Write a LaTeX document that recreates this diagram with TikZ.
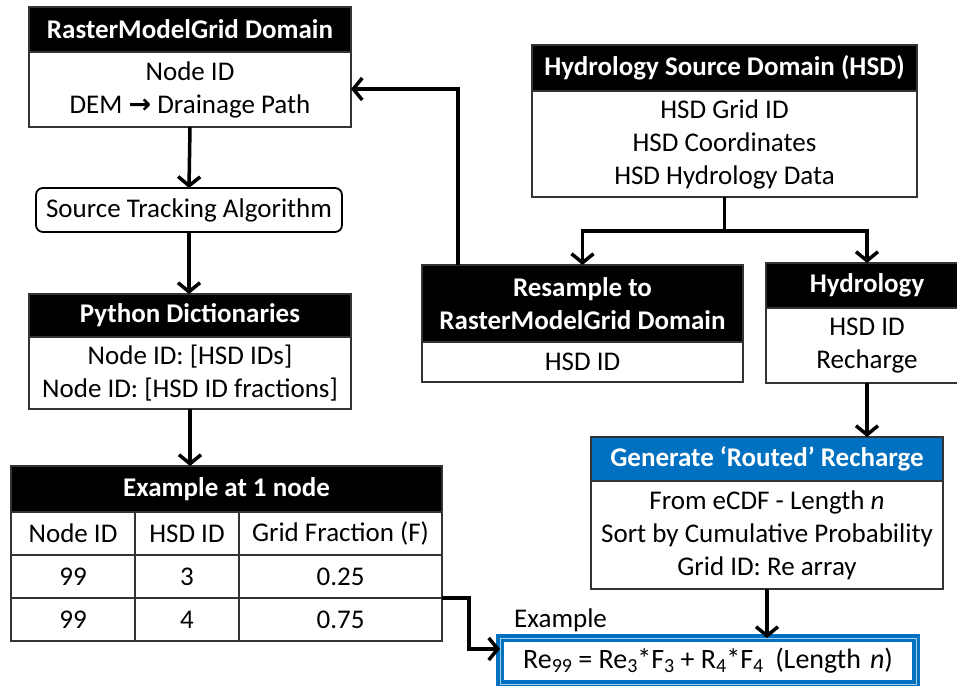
\documentclass[tikz,border=0pt]{standalone}
\usepackage{fontspec}
\setmainfont{Carlito}
\newfontfamily\arrowfont{DejaVu Sans}
\usepackage{tikz}
\usetikzlibrary{positioning}
\usetikzlibrary{arrows.meta}

\definecolor{officeblue}{RGB}{0,112,192}
\newcommand{\lowsub}[1]{\raisebox{-0.3ex}{\fontsize{20}{20}\selectfont #1}}

\begin{document}
\begin{tikzpicture}[
        x = 1pt, y = -1pt,
        font = \fontsize{27}{33}\selectfont,
        head/.style = {
            draw = black!80,
            fill = black,
            text = white,
            font = \fontsize{27}{33}\selectfont\bfseries,
            align = center,
            minimum width = #1,
            inner sep = 0pt,
            outer sep = 0pt,
            line width = 1.2pt
        },
        head/.default = 322pt,
        body/.style = {
            draw = black!80,
            fill = white,
            align = center,
            minimum width = #1,
            inner sep = 0pt,
            outer sep = 0pt,
            line width = 1.2pt
        },
        body/.default = 322pt,
        cell/.style = {
            body = #1,
            minimum height = 43pt
        },
        flow/.style = {
            line width = 3.5pt,
            -{Straight Barb[length = 9pt, width = 22pt, line width = 3.5pt]}
        },
        link/.style = {
            line width = 3.5pt
        }
        ]
        \useasboundingbox (0,0) rectangle (957,685);
%
        \node[head = 322pt, minimum height = 45pt, anchor = north] (rmg) at (190,7) {RasterModelGrid Domain};
        \node[body = 322pt, minimum height = 75pt, below = 0pt of rmg] (rmgbody) {Node ID\\DEM {\arrowfont\bfseries →} Drainage Path};
%
        \node[body = 306pt, minimum height = 44pt, rounded corners = 7pt, line width = 1.8pt, draw = black] (track) at (189,210) {Source Tracking Algorithm};
%
        \node[head = 322pt, minimum height = 43pt, anchor = north] (py) at (190,294) {Python Dictionaries};
        \node[body = 322pt, minimum height = 72pt, below = 0pt of py] (pybody) {Node ID: [HSD IDs]\\Node ID: [HSD ID fractions]};
%
% table
        \node[head = 431pt, minimum height = 46pt, anchor = north west] (tab) at (11,466) {Example at 1 node};
        \node[cell = 124pt, anchor = north west] (c11) at (tab.south west) {Node ID};
        \node[cell = 104pt, right = 0pt of c11] (c12) {HSD ID};
        \node[cell = 203pt, right = 0pt of c12] (c13) {Grid Fraction (F)};
        \node[cell = 124pt, below = 0pt of c11] (c21) {99};
        \node[cell = 104pt, right = 0pt of c21] (c22) {3};
        \node[cell = 203pt, right = 0pt of c22] (c23) {0.25};
        \node[cell = 124pt, below = 0pt of c21] (c31) {99};
        \node[cell = 104pt, right = 0pt of c31] (c32) {4};
        \node[cell = 203pt, right = 0pt of c32] (c33) {0.75};
%
% right side
        \node[head = 385pt, minimum height = 46pt, anchor = north] (hsd) at (724.5,45) {Hydrology Source Domain (HSD)};
        \node[body = 385pt, minimum height = 106pt, below = 0pt of hsd] (hsdbody) {HSD Grid ID\\HSD Coordinates\\HSD Hydrology Data};
%
        \node[head = 321pt, minimum height = 77pt, anchor = north] (rs) at (582.5,265) {Resample to\\RasterModelGrid Domain};
        \node[body = 321pt, minimum height = 40pt, below = 0pt of rs] (rsbody) {HSD ID};
%
        \node[head = 202pt, minimum height = 45pt, anchor = north] (hy) at (867,263) {Hydrology};
        \node[body = 202pt, minimum height = 75pt, below = 0pt of hy] (hybody) {HSD ID\\Recharge};
%
        \node[head = 352pt, minimum height = 44pt, anchor = north, fill = officeblue] (gen) at (767,437) {Generate ‘Routed’ Recharge};
        \node[body = 352pt, minimum height = 108pt, below = 0pt of gen] (genbody) {From eCDF - Length \textit{n}\\Sort by Cumulative Probability\\Grid ID: Re array};
%
        \node[body = 416pt, minimum height = 46pt, anchor = north, draw = officeblue, line width = 4pt,
              double = officeblue!35, double distance = 0.8pt, font = \fontsize{28}{33}\selectfont] (eq) at (708,638)
              {Re\lowsub{99} = Re\lowsub{3}*F\lowsub{3} + R\lowsub{4}*F\lowsub{4}\hspace{12pt}(Length\hspace{9pt}\textit{n})};
        \node[anchor = base west, inner sep = 0pt] (exlab) at (514,627) {Example};
%
% connectors
        \draw[flow] (rmgbody.south) -- (track.north);
        \draw[flow] (track.south) -- (track.south |- py.north);
        \draw[flow] (pybody.south) -- (pybody.south |- tab.north);
%
        \draw[link] (hsdbody.south) -- ++(0,34) coordinate (fork);
        \draw[flow] (fork) -| (rs.north);
        \draw[flow] (fork) -| (hy.north);
%
        \coordinate (bend) at (458,89);
        \draw[flow] (rs.north -| bend) -- (bend) -- (bend -| rmgbody.east);
%
        \draw[flow] (hybody.south) -- (hybody.south |- gen.north);
        \draw[flow] (genbody.south) -- (genbody.south |- eq.north);
%
        \draw[flow] (c23.south east) -- ++(27,0) |- ([yshift=12pt]eq.west);
%
    \end{tikzpicture}
\end{document}
